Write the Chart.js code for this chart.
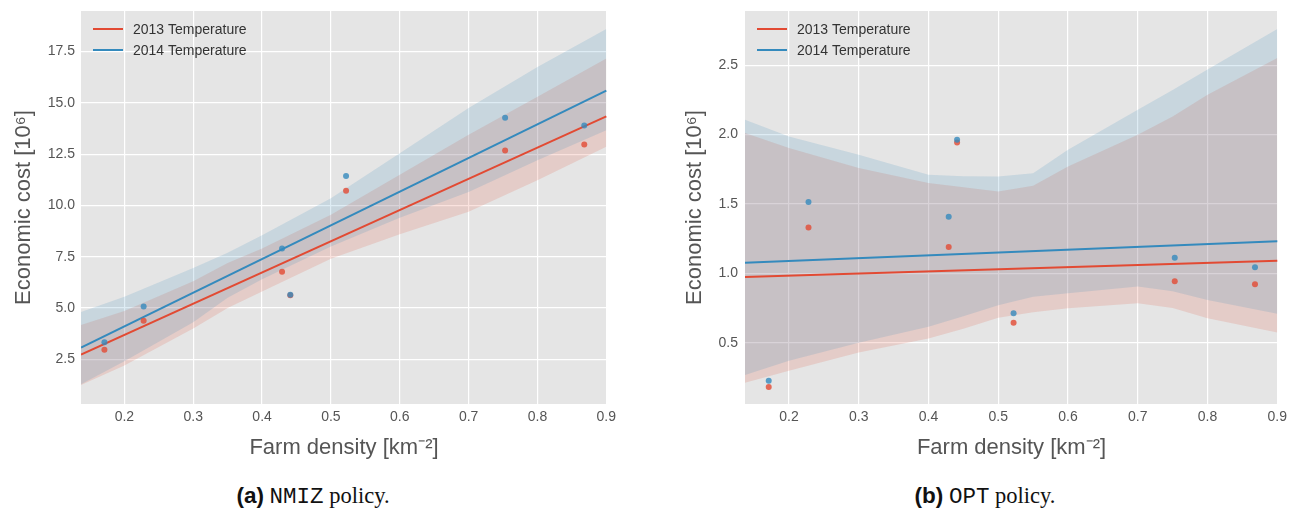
<!DOCTYPE html>
<html>
<head>
<meta charset="utf-8">
<script src="https://cdn.jsdelivr.net/npm/chart.js@4/dist/chart.umd.min.js"></script>
<style>
  html, body { margin: 0; padding: 0; background: #ffffff; }
  #wrap { position: relative; width: 1301px; height: 510px; overflow: hidden; }
  .panel { position: absolute; top: 0; }
  .cap { position: absolute; top: 483px; font-size: 22.5px; color: #111; white-space: nowrap; text-align: center; }
  .cap b { font-family: "Liberation Sans", Arial, sans-serif; font-weight: bold; }
  .cap .mono { font-family: "Liberation Mono", "DejaVu Sans Mono", monospace; }
  .cap .serif { font-family: "Liberation Serif", "DejaVu Serif", serif; }
</style>
</head>
<body>
<div id="wrap">
  <div class="panel" style="left:0px;"><canvas id="cA" width="650" height="470"></canvas></div>
  <div class="panel" style="left:650px;"><canvas id="cB" width="651" height="470"></canvas></div>
  <div class="cap" style="left:0px; width:626px;"><b>(a)</b> <span class="mono">NMIZ</span> <span class="serif">policy.</span></div>
  <div class="cap" style="left:670px; width:630px;"><b>(b)</b> <span class="mono">OPT</span> <span class="serif">policy.</span></div>
</div>
<script>
// ---------------- data ----------------
const seriesNames = ['2013 Temperature', '2014 Temperature'];
const xTicks = [0.2, 0.3, 0.4, 0.5, 0.6, 0.7, 0.8, 0.9];
const yTicksA = [2.5, 5.0, 7.5, 10.0, 12.5, 15.0, 17.5];
const yTicksB = [0.5, 1.0, 1.5, 2.0, 2.5];

const density = [0.171, 0.228, 0.429, 0.441, 0.522, 0.753, 0.868];

// (a) NMIZ policy
const costA2013 = [2.97, 4.38, 6.77, 5.62, 10.72, 12.68, 12.97];
const costA2014 = [3.33, 5.07, 7.90, 5.65, 11.43, 14.28, 13.90];
const fitX = [0.137, 0.9];
const fitA2013 = [2.73, 14.34];
const fitA2014 = [3.07, 15.60];
const bandXA = [0.137, 0.2, 0.3, 0.35, 0.4, 0.5, 0.6, 0.7, 0.8, 0.9];
const bandA2014Upper = [4.80, 5.55, 6.95, 7.70, 8.55, 10.35, 12.55, 14.75, 16.75, 18.60];
const bandA2014Lower = [1.28, 2.40, 4.30, 5.50, 6.40, 8.00, 9.40, 10.66, 12.20, 13.67];
const bandA2013Upper = [4.17, 4.85, 6.30, 7.20, 7.90, 9.55, 11.50, 13.45, 15.30, 17.16];
const bandA2013Lower = [1.25, 2.20, 4.00, 5.00, 5.80, 7.40, 8.60, 9.69, 11.23, 12.86];

// (b) OPT policy
const costB2013 = [0.180, 1.330, 1.190, 1.943, 0.644, 0.943, 0.921];
const costB2014 = [0.226, 1.513, 1.407, 1.962, 0.712, 1.111, 1.044];
const fitB2013 = [0.974, 1.090];
const fitB2014 = [1.075, 1.230];
const bandXB = [0.137, 0.2, 0.3, 0.4, 0.45, 0.5, 0.55, 0.6, 0.7, 0.75, 0.8, 0.9];
const bandB2014Upper = [2.107, 1.986, 1.854, 1.710, 1.700, 1.698, 1.720, 1.890, 2.179, 2.320, 2.468, 2.760];
const bandB2014Lower = [0.267, 0.370, 0.500, 0.615, 0.690, 0.770, 0.830, 0.856, 0.904, 0.870, 0.808, 0.708];
const bandB2013Upper = [2.011, 1.903, 1.758, 1.650, 1.620, 1.590, 1.630, 1.770, 1.999, 2.130, 2.287, 2.552];
const bandB2013Lower = [0.211, 0.298, 0.430, 0.530, 0.600, 0.680, 0.720, 0.748, 0.784, 0.750, 0.676, 0.573];

// ---------------- style ----------------
const RED = 'rgb(226,74,51)';
const BLUE = 'rgb(52,138,189)';
const RED_PT = 'rgba(226,74,51,0.8)';
const BLUE_PT = 'rgba(52,138,189,0.8)';
const RED_BAND = 'rgba(226,74,51,0.16)';
const BLUE_BAND = 'rgba(52,138,189,0.16)';
const FONT = '"Liberation Sans", Arial, sans-serif';

const pts = (xs, ys) => xs.map((x, i) => ({x: x, y: ys[i]}));

const bgPlugin = {
  id: 'plotBg',
  beforeDraw(chart) {
    const a = chart.chartArea, ctx = chart.ctx;
    ctx.save();
    ctx.fillStyle = '#E5E5E5';
    ctx.fillRect(a.left, a.top, a.right - a.left, a.bottom - a.top);
    ctx.restore();
  }
};

const legendPlugin = {
  id: 'innerLegend',
  afterDraw(chart) {
    const a = chart.chartArea, ctx = chart.ctx;
    const colors = [RED, BLUE];
    ctx.save();
    seriesNames.forEach((name, i) => {
      const y = a.top + 18 + i * 21;
      ctx.strokeStyle = colors[i];
      ctx.lineWidth = 2;
      ctx.beginPath();
      ctx.moveTo(a.left + 12, y);
      ctx.lineTo(a.left + 42, y);
      ctx.stroke();
      ctx.fillStyle = '#333333';
      ctx.font = '14px ' + FONT;
      ctx.textBaseline = 'middle';
      ctx.textAlign = 'left';
      ctx.fillText(name, a.left + 52, y + 1);
    });
    ctx.restore();
  }
};

function makeChart(id, o) {
  const datasets = [
    {data: pts(density, o.c2014), showLine: false, pointRadius: 3, pointBackgroundColor: BLUE_PT, pointBorderWidth: 0},
    {data: pts(density, o.c2013), showLine: false, pointRadius: 3, pointBackgroundColor: RED_PT, pointBorderWidth: 0},
    {data: pts(fitX, o.f2014), borderColor: BLUE, borderWidth: 2, pointRadius: 0, fill: false},
    {data: pts(fitX, o.f2013), borderColor: RED, borderWidth: 2, pointRadius: 0, fill: false},
    {data: pts(o.bx, o.u2014), borderWidth: 0, pointRadius: 0, backgroundColor: BLUE_BAND, fill: {target: 5}},
    {data: pts(o.bx, o.l2014), borderWidth: 0, pointRadius: 0, fill: false},
    {data: pts(o.bx, o.u2013), borderWidth: 0, pointRadius: 0, backgroundColor: RED_BAND, fill: {target: 7}},
    {data: pts(o.bx, o.l2013), borderWidth: 0, pointRadius: 0, fill: false}
  ];
  return new Chart(document.getElementById(id), {
    type: 'line',
    data: {datasets: datasets},
    options: {
      responsive: false,
      animation: false,
      events: [],
      layout: {padding: {left: 0, right: o.padRight, top: 11, bottom: 0}},
      plugins: {legend: {display: false}, tooltip: {enabled: false}},
      elements: {line: {tension: 0}},
      scales: {
        x: {
          type: 'linear',
          min: o.xmin, max: o.xmax,
          afterBuildTicks: s => { s.ticks = xTicks.map(v => ({value: v})); },
          afterFit: s => { s.height = 66; s.paddingLeft = 0; s.paddingRight = 0; },
          grid: {color: '#FFFFFF', lineWidth: 1.2, drawTicks: false},
          border: {display: false},
          ticks: {font: {family: FONT, size: 14}, color: '#555555', padding: 5, maxRotation: 0,
                  callback: v => Number(v).toFixed(1)},
          title: {display: true, text: 'Farm density [km⁻²]', color: '#555555',
                  font: {family: FONT, size: 22, lineHeight: 1.2}, padding: {top: 0, bottom: 9}}
        },
        y: {
          type: 'linear',
          min: o.ymin, max: o.ymax,
          afterBuildTicks: s => { s.ticks = o.yTicks.map(v => ({value: v})); },
          afterFit: s => { s.width = o.yWidth; s.paddingTop = 0; s.paddingBottom = 0; },
          grid: {color: '#FFFFFF', lineWidth: 1.2, drawTicks: false},
          border: {display: false},
          ticks: {font: {family: FONT, size: 14}, color: '#555555', padding: o.tickPad,
                  callback: v => Number(v).toFixed(1)},
          title: {display: true, text: 'Economic cost [10⁶]', color: '#555555',
                  font: {family: FONT, size: 22, lineHeight: 1.2}, padding: {top: o.titlePad, bottom: 0}}
        }
      }
    },
    plugins: [bgPlugin, legendPlugin]
  });
}

makeChart('cA', {
  c2013: costA2013, c2014: costA2014, f2013: fitA2013, f2014: fitA2014,
  bx: bandXA, u2014: bandA2014Upper, l2014: bandA2014Lower, u2013: bandA2013Upper, l2013: bandA2013Lower,
  xmin: 0.137, xmax: 0.901, ymin: 0.32, ymax: 19.48, yTicks: yTicksA,
  yWidth: 81, padRight: 43, tickPad: 6, titlePad: 11
});
makeChart('cB', {
  c2013: costB2013, c2014: costB2014, f2013: fitB2013, f2014: fitB2014,
  bx: bandXB, u2014: bandB2014Upper, l2014: bandB2014Lower, u2013: bandB2013Upper, l2013: bandB2013Lower,
  xmin: 0.137, xmax: 0.901, ymin: 0.058, ymax: 2.89, yTicks: yTicksB,
  yWidth: 95, padRight: 23, tickPad: 7, titlePad: 32
});
</script>
</body>
</html>
